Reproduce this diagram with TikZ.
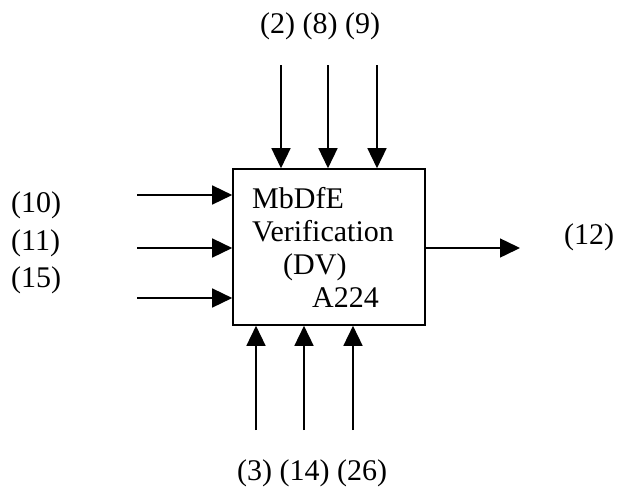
\documentclass[tikz,border=0pt]{standalone}
\usepackage{fontspec}
\setmainfont{Liberation Serif}
\usetikzlibrary{arrows.meta}

\begin{document}
\begin{tikzpicture}[x=1pt,y=-1pt,
    lbl/.style={anchor=base west,inner sep=0pt,font=\fontsize{30}{34}\selectfont},
    flow/.style={line width=1.5pt,-{Triangle[length=20pt,width=19pt]}}]
    \useasboundingbox (0,0) rectangle (619,488);

    \node[draw,line width=1.6pt,minimum width=192pt,minimum height=156pt,inner sep=0pt] at (329,247) (act) {};

    \node[lbl] at (252,208) (t1) {MbDfE};
    \node[lbl] at (252,241) (t2) {Verification};
    \node[lbl] at (283,274) (t3) {(DV)};
    \node[lbl] at (312,307) (t4) {A224};

    % ends of the arrows
    \coordinate (c1) at (281,65);
    \coordinate (c2) at (328,65);
    \coordinate (c3) at (377,65);
    \coordinate (m1) at (256,430);
    \coordinate (m2) at (304,430);
    \coordinate (m3) at (353,430);
    \coordinate (i1) at (137,195);
    \coordinate (i2) at (137,248);
    \coordinate (i3) at (137,298);
    \coordinate (o1) at (520,248);

    \draw[flow]
      (c1) -- (c1 |- act.north);
    \draw[flow]
      (c2) -- (c2 |- act.north);
    \draw[flow]
      (c3) -- (c3 |- act.north);
    \draw[flow]
      (m1) -- (m1 |- act.south);
    \draw[flow]
      (m2) -- (m2 |- act.south);
    \draw[flow]
      (m3) -- (m3 |- act.south);
    \draw[flow]
      (i1) -- (i1 -| act.west);
    \draw[flow]
      (i2) -- (i2 -| act.west);
    \draw[flow]
      (i3) -- (i3 -| act.west);
    \draw[flow]
      (o1 -| act.east) -- (o1);

    \node[lbl] at (260,33) (ctrl) {(2) (8) (9)};
    \node[lbl] at (237,480) (mech) {(3) (14) (26)};
    \node[lbl] at (11,212) (in1) {(10)};
    \node[lbl] at (11,250) (in2) {(11)};
    \node[lbl] at (11,287) (in3) {(15)};
    \node[lbl] at (564,244) (out) {(12)};
  \end{tikzpicture}
\end{document}
